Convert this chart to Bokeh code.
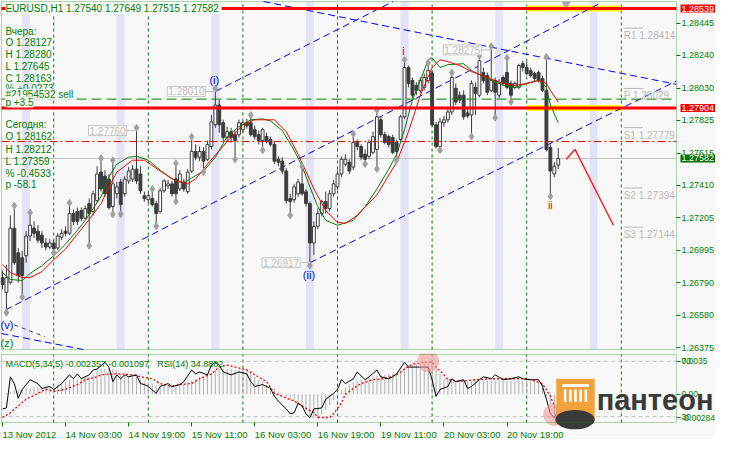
import numpy as np
import pandas as pd
from bokeh.plotting import figure
from bokeh.models import (Range1d, LinearAxis, FixedTicker, PrintfTickFormatter,
                          BoxAnnotation, Label)
from bokeh.layouts import column
from bokeh.embed import file_html
from bokeh.resources import INLINE
from bokeh.core.properties import value

# ---------------- data (EURUSD, H1) ----------------
symbol = "EURUSD,H1"
open_ = [1.26822,1.26728,1.26791,1.27137,1.26980,1.26948,1.26961,1.27087,1.27137,1.27118,
         1.27093,1.27043,1.27017,1.27043,1.27011,1.27080,1.27118,1.27105,1.27231,1.27244,
         1.27250,1.27200,1.27294,1.27244,1.27313,1.27495,1.27470,1.27451,1.27275,1.27357,
         1.27432,1.27357,1.27439,1.27451,1.27514,1.27483,1.27344,1.27319,1.27326,1.27294,
         1.27244,1.27376,1.27407,1.27420,1.27451,1.27388,1.27432,1.27370,1.27502,1.27627,
         1.27590,1.27627,1.27577,1.27659,1.27797,1.27923,1.27810,1.27716,1.27753,1.27734,
         1.27734,1.27766,1.27810,1.27810,1.27766,1.27734,1.27697,1.27722,1.27703,1.27672,
         1.27577,1.27565,1.27502,1.27326,1.27319,1.27357,1.27420,1.27370,1.27294,1.27043,
         1.27149,1.27231,1.27307,1.27263,1.27357,1.27401,1.27483,1.27546,1.27558,1.27527,
         1.27684,1.27659,1.27609,1.27596,1.27621,1.27640,1.27829,1.27734,1.27722,1.27716,
         1.27684,1.27703,1.27848,1.28162,1.28080,1.28049,1.28017,1.28036,1.28080,1.28127,
         1.27797,1.27659,1.27810,1.27829,1.27879,1.28030,1.27986,1.27986,1.27873,1.27860,
         1.28036,1.27986,1.28131,1.28112,1.28017,1.28080,1.27986,1.28099,1.28131,1.28061,
         1.28036,1.28036,1.28187,1.28162,1.28143,1.28124,1.28131,1.28093,1.28017,1.27653,
         1.27483,1.27540]
high_ = [1.26866,1.26904,1.27219,1.27263,1.27011,1.26992,1.27118,1.27219,1.27181,1.27156,
         1.27118,1.27074,1.27068,1.27061,1.27105,1.27131,1.27149,1.27281,1.27256,1.27269,
         1.27269,1.27281,1.27326,1.27376,1.27533,1.27565,1.27508,1.27483,1.27552,1.27432,
         1.27451,1.27470,1.27527,1.27539,1.27760,1.27533,1.27370,1.27363,1.27370,1.27313,
         1.27395,1.27451,1.27445,1.27439,1.27533,1.27508,1.27451,1.27514,1.27703,1.27672,
         1.27659,1.27653,1.27697,1.27860,1.28010,1.27955,1.27829,1.27785,1.27778,1.27760,
         1.27829,1.27822,1.27835,1.27841,1.27791,1.27760,1.27778,1.27747,1.27722,1.27690,
         1.27596,1.27590,1.27520,1.27357,1.27420,1.27451,1.27514,1.27388,1.27307,1.27181,
         1.27263,1.27319,1.27370,1.27382,1.27445,1.27508,1.27596,1.27609,1.27577,1.27722,
         1.27703,1.27672,1.27640,1.27703,1.27753,1.27873,1.27848,1.27753,1.27734,1.27734,
         1.27703,1.27860,1.28194,1.28175,1.28099,1.28068,1.28099,1.28124,1.28175,1.28143,
         1.27816,1.27841,1.27854,1.27904,1.28112,1.28061,1.28011,1.28017,1.27898,1.28080,
         1.28068,1.28219,1.28162,1.28131,1.28280,1.28099,1.28087,1.28112,1.28206,1.28080,
         1.28074,1.28187,1.28206,1.28200,1.28162,1.28137,1.28143,1.28112,1.28212,1.27672,
         1.27558,1.27649]
low_ = [1.26747,1.26615,1.26778,1.26904,1.26791,1.26715,1.26917,1.27055,1.27074,1.27043,
        1.27011,1.26998,1.27005,1.26998,1.26998,1.27061,1.27087,1.27093,1.27156,1.27156,
        1.27181,1.27193,1.27043,1.27219,1.27300,1.27370,1.27338,1.27256,1.27244,1.27326,
        1.27244,1.27338,1.27420,1.27432,1.27420,1.27357,1.27307,1.27300,1.27275,1.27168,
        1.27231,1.27363,1.27388,1.27338,1.27326,1.27376,1.27370,1.27357,1.27489,1.27571,
        1.27565,1.27514,1.27565,1.27640,1.27778,1.27747,1.27684,1.27690,1.27684,1.27596,
        1.27716,1.27747,1.27772,1.27722,1.27703,1.27672,1.27653,1.27678,1.27659,1.27546,
        1.27533,1.27483,1.27294,1.27238,1.27300,1.27338,1.27344,1.27275,1.26917,1.26967,
        1.27131,1.27212,1.27231,1.27244,1.27338,1.27382,1.27464,1.27533,1.27483,1.27508,
        1.27634,1.27571,1.27565,1.27577,1.27609,1.27533,1.27716,1.27672,1.27653,1.27609,
        1.27590,1.27690,1.27835,1.28036,1.27967,1.27986,1.27999,1.28017,1.28061,1.27785,
        1.27645,1.27653,1.27785,1.27810,1.27860,1.27923,1.27936,1.27829,1.27841,1.27741,
        1.27860,1.27973,1.28061,1.27986,1.28005,1.27860,1.27967,1.28049,1.28024,1.27961,
        1.28024,1.28024,1.28137,1.28112,1.28099,1.28074,1.28068,1.28005,1.27627,1.27359,
        1.27464,1.27515]
close_ = [1.26778,1.26822,1.27137,1.26917,1.26835,1.26835,1.27087,1.27156,1.27105,1.27061,
          1.27043,1.27017,1.27043,1.27005,1.27087,1.27105,1.27105,1.27231,1.27181,1.27181,
          1.27200,1.27263,1.27231,1.27357,1.27483,1.27388,1.27357,1.27269,1.27420,1.27401,
          1.27288,1.27451,1.27502,1.27514,1.27439,1.27376,1.27326,1.27344,1.27288,1.27231,
          1.27376,1.27439,1.27420,1.27357,1.27357,1.27483,1.27388,1.27495,1.27627,1.27590,
          1.27627,1.27565,1.27672,1.27816,1.27923,1.27797,1.27716,1.27753,1.27716,1.27697,
          1.27810,1.27810,1.27791,1.27734,1.27722,1.27697,1.27766,1.27690,1.27672,1.27565,
          1.27558,1.27502,1.27313,1.27307,1.27401,1.27432,1.27357,1.27294,1.27043,1.27149,
          1.27231,1.27307,1.27263,1.27357,1.27420,1.27483,1.27577,1.27577,1.27502,1.27684,
          1.27659,1.27590,1.27577,1.27684,1.27722,1.27848,1.27734,1.27684,1.27672,1.27621,
          1.27627,1.27848,1.28162,1.28061,1.27986,1.28017,1.28080,1.28099,1.28143,1.27797,
          1.27659,1.27816,1.27829,1.27879,1.28099,1.27942,1.27955,1.27848,1.27854,1.28061,
          1.27999,1.28206,1.28080,1.28005,1.28080,1.28005,1.28061,1.28061,1.28036,1.27986,
          1.28061,1.28175,1.28163,1.28124,1.28112,1.28093,1.28080,1.28017,1.27640,1.27502,
          1.27533,1.27582]

# moving averages
ma_fast_idx = [0,2,5,7,10,13,16,19,21,23,25,27,29,32,34,37,40,43,46,48,51,54,57,60,63,66,68,71,74,76,
               78,80,82,85,89,92,95,98,100,102,104,106,108,109,111,113,117,119,123,127,130,134,136,138,139,141]
ma_fast = [1.26854,1.26810,1.26803,1.26848,1.26898,1.26961,1.27036,1.27124,1.27187,1.27263,
           1.27338,1.27464,1.27546,1.27590,1.27596,1.27571,1.27508,1.27451,1.27426,1.27458,
           1.27502,1.27590,1.27722,1.27785,1.27829,1.27835,1.27822,1.27760,1.27634,1.27533,
           1.27401,1.27275,1.27187,1.27156,1.27187,1.27275,1.27388,1.27514,1.27609,1.27766,
           1.27955,1.28080,1.28212,1.28225,1.28162,1.28181,1.28187,1.28143,1.28093,1.28049,
           1.28036,1.28068,1.28080,1.28036,1.27923,1.27810]
ma_slow_idx = [0,2,5,7,10,13,16,19,22,25,27,29,33,36,40,44,47,49,52,57,61,64,69,72,75,79,82,85,87,90,
               95,100,103,106,109,111,113,116,119,123,127,130,133,136,138,139,141]
ma_slow = [1.26904,1.26854,1.26822,1.26822,1.26860,1.26936,1.27005,1.27099,1.27193,1.27294,
           1.27401,1.27495,1.27571,1.27571,1.27502,1.27439,1.27420,1.27451,1.27546,1.27690,
           1.27797,1.27829,1.27829,1.27753,1.27609,1.27388,1.27250,1.27175,1.27168,1.27219,
           1.27351,1.27558,1.27753,1.27986,1.28162,1.28212,1.28200,1.28175,1.28137,1.28099,
           1.28061,1.28049,1.28061,1.28080,1.28061,1.28017,1.27942]

# fractals (bar indices)
up_frac = [3,7,17,25,28,34,38,44,48,54,63,76,89,95,102,108,114,121,124,128,138]
dn_frac = [1,5,13,22,28,30,39,44,51,59,66,73,78,92,95,100,111,119,125,129,139]

# price axis ticks and levels
price_ticks = [1.26375,1.26580,1.26790,1.26995,1.27205,1.27410,1.27615,1.27825,1.28030,1.28240,1.28445]
red_levels = [1.28539, 1.27904]
order_price = 1.27961
order_text = ["#21954532 sell", "p +3.5"]
stop_price = 1.27690
pivot_names = ["R1", "P", "S1", "S2", "S3"]
pivot_vals = [1.28414, 1.28029, 1.27779, 1.27394, 1.27144]

# extremes with grey price boxes
ext_idx = [34, 54, 78, 124]
ext_price = [1.27760, 1.28010, 1.26917, 1.28275]

# wave counts
wave_text = ["(i)", "(ii)", "i", "ii"]
wave_idx = [53.75, 77.75, 101.75, 139.0]
wave_price = [1.28080, 1.26841, 1.28269, 1.27288]
wave_color = ["#0000ff", "#0000ff", "#ff0000", "#ff0000"]

# trend lines (start idx, start price, end idx, end price)
tl_x0 = [54, 0.75, 78, 66.2, -0.25]
tl_y0 = [1.28010, 1.26615, 1.26917, 1.28584, 1.26465]
tl_x1 = [99.1, 152, 171.0, 171.0, 20.5]
tl_y1 = [1.28584, 1.28577, 1.28077, 1.28055, 1.26363]
aux_x = [3, 10.75]
aux_y = [1.26520, 1.26445]

# forecast path
fc_idx = [143, 145.25, 155]
fc_price = [1.27577, 1.27640, 1.27156]

# daily info
yday = {"O": 1.28127, "H": 1.28280, "L": 1.27645, "C": 1.28163, "pct": "+0.0273"}
today = {"O": 1.28162, "H": 1.28212, "L": 1.27359, "pct": "-0.4533", "p": "-58.1"}

# indicators
macd_hist = [0.00000,0.00010,0.00030,0.00041,0.00051,0.00051,0.00061,0.00061,0.00071,0.00071,
             0.00071,0.00071,0.00081,0.00091,0.00101,0.00112,0.00132,0.00152,0.00162,0.00162,
             0.00172,0.00183,0.00183,0.00203,0.00254,0.00264,0.00264,0.00264,0.00264,0.00254,
             0.00213,0.00203,0.00193,0.00193,0.00183,0.00152,0.00132,0.00122,0.00112,0.00091,
             0.00091,0.00091,0.00091,0.00091,0.00091,0.00101,0.00112,0.00122,0.00142,0.00162,
             0.00183,0.00183,0.00193,0.00223,0.00254,0.00264,0.00264,0.00264,0.00264,0.00254,
             0.00254,0.00254,0.00254,0.00233,0.00183,0.00152,0.00132,0.00101,0.00081,0.00061,
             0.00030,0.00000,-0.00030,-0.00061,-0.00081,-0.00101,-0.00132,-0.00172,-0.00233,-0.00254,
             -0.00254,-0.00213,-0.00162,-0.00112,-0.00061,-0.00010,0.00041,0.00071,0.00101,0.00122,
             0.00142,0.00152,0.00162,0.00172,0.00183,0.00193,0.00203,0.00203,0.00213,0.00213,
             0.00223,0.00233,0.00274,0.00294,0.00304,0.00314,0.00325,0.00335,0.00345,0.00345,
             0.00284,0.00213,0.00162,0.00152,0.00142,0.00142,0.00142,0.00132,0.00132,0.00132,
             0.00142,0.00142,0.00142,0.00142,0.00142,0.00142,0.00142,0.00142,0.00142,0.00142,
             0.00142,0.00142,0.00142,0.00142,0.00132,0.00132,0.00132,0.00112,-0.00020,-0.00132,
             -0.00213,-0.00236]
sig_idx = [0,2,4,6,9,11,13,16,19,21,24,25,28,30,33,35,38,40,43,45,48,50,53,55,57,59,62,64,67,69,
           72,74,76,79,80,83,84,86,87,89,91,94,97,100,102,104,107,109,110,112,113,116,120,124,128,
           132,134,137,139,140,141]
sig_val = [-0.00243,-0.00193,-0.00122,-0.00051,0.00010,0.00051,0.00030,0.00051,0.00101,0.00152,
           0.00183,0.00203,0.00213,0.00213,0.00203,0.00183,0.00162,0.00112,0.00081,0.00101,
           0.00112,0.00162,0.00213,0.00284,0.00304,0.00284,0.00254,0.00203,0.00132,0.00010,
           -0.00041,-0.00071,-0.00122,-0.00193,-0.00243,-0.00243,-0.00203,-0.00091,0.00000,0.00061,
           0.00112,0.00152,0.00162,0.00203,0.00264,0.00314,0.00335,0.00335,0.00284,0.00203,
           0.00152,0.00132,0.00152,0.00162,0.00162,0.00162,0.00152,0.00112,-0.00020,-0.00122,
           -0.00193]
rsi_idx = [0,1,2,3,4,5,7,9,10,12,13,15,17,18,19,20,22,23,24,26,27,28,29,30,31,32,34,35,36,37,
           39,40,42,43,45,46,48,49,50,52,53,54,55,56,58,60,62,63,64,66,68,69,70,72,73,74,75,76,77,78,
           79,81,82,84,85,86,87,89,90,92,93,95,96,98,99,100,102,103,105,107,108,109,110,111,113,114,
           115,117,118,119,121,122,124,125,127,129,131,132,134,136,137,138,139,140,141]
rsi_val = [35.6,36.3,58.8,53.9,43.3,49.6,56.7,53.9,50.4,51.8,49.6,53.9,60.2,57.4,60.9,57.4,60.2,
           63.7,64.4,69.3,65.8,55.3,60.2,57.4,60.2,58.8,60.2,53.9,53.2,51.8,46.8,51.8,53.9,51.8,
           53.2,55.3,63.7,60.9,62.3,60.2,67.2,69.3,67.2,62.3,60.2,62.3,60.9,55.3,51.8,53.2,50.4,
           44.7,41.2,35.6,32.1,32.8,39.8,37.7,32.1,29.3,35.6,36.3,42.6,46.8,49.6,56.7,53.9,57.4,
           62.3,56.7,58.8,63.7,58.8,57.4,58.8,60.9,69.3,65.8,65.8,65.8,65.8,56.7,44.7,49.6,51.8,
           57.4,55.3,56.7,50.4,51.8,56.7,58.8,57.4,60.2,56.7,57.4,58.8,57.4,56.7,56.7,51.8,42.6,
           32.1,29.3,34.9]
macd_text = "MACD(5,34,5) -0.002357 -0.001097"
rsi_text = "RSI(14) 34.8882"
rsi_levels = [70, 30]
macd_axis_ticks = [0.00345, 0, -0.00243]
macd_axis_text = {0.00345: "0.0035", 0: "0.00", -0.00243: "-0.00284"}
highlight_idx = [108, 140]

# ---------------- styling / geometry ----------------
FONT = "Liberation Sans"
GREEN = "#008000"
BG = "#f8f8f8"
CANDLE = "#3c3c3c"
FW = 715                      # frame width (px); axes sit at fixed locations inside it
XB0, XB1 = -0.25, 171.0       # chart border in bar units
PXB = 675.0 / (XB1 - XB0)     # px per bar
XF0 = XB0 - 1.0 / PXB
XF1 = XF0 + FW / PXB
Y0b, Y1b = 1.26363, 1.28584   # price border
SP = (Y1b - Y0b) / 348.0
M0b, M1b = -0.00295, 0.00415  # MACD border
SM = (M1b - M0b) / 68.0
R0b, R1b = 25.8, 74.9         # RSI border
SR = (R1b - R0b) / 68.0


def rx(px):
    return XB0 + (px - 5) / 4.0


def ry(py):
    return Y1b - (py - 5) * (Y1b - Y0b) / 353.0


def sy(py):
    return M1b - (py - 362) * (M1b - M0b) / 70.0


o = np.array(open_); h = np.array(high_); l = np.array(low_); c = np.array(close_)
n = len(c)
idx = np.arange(n)
slots = pd.date_range("2012-11-13 11:00", "2012-11-24 00:00", freq="60min")
slots = slots[slots.dayofweek < 5][:172]
sep_idx = [i for i, t in enumerate(slots) if t.hour == 0]
band_idx = [i for i, t in enumerate(slots) if t.hour == 16]
tick_idx = list(range(0, n, 16))
tick_text = {i: (slots[i].strftime("%d %b %Y") if i == 0 else slots[i].strftime("%d %b %H:%M"))
             for i in tick_idx}
day_start = max(s for s in sep_idx if s < n)
day_end = min(s for s in sep_idx if s > day_start)

xr = Range1d(XF0, XF1)


def style_right_axis(ax, size):
    ax.axis_line_color = None
    ax.major_tick_line_color = GREEN
    ax.major_tick_in = 0
    ax.major_tick_out = 4
    ax.minor_tick_line_color = None
    ax.major_label_text_color = GREEN
    ax.major_label_text_font = FONT
    ax.major_label_text_font_size = size
    ax.major_label_standoff = 1


# ---------------- main panel ----------------
p1 = figure(frame_width=FW, frame_height=353, x_range=xr,
            y_range=Range1d(Y0b - 4 * SP, Y1b + SP),
            x_axis_location=None, y_axis_location=None, output_backend="svg",
            toolbar_location=None, min_border_left=0, min_border_right=0,
            min_border_top=0, min_border_bottom=0, background_fill_color=BG,
            border_fill_color=BG, outline_line_color=None)
p1.grid.grid_line_color = None

ya = LinearAxis(ticker=FixedTicker(ticks=price_ticks), formatter=PrintfTickFormatter(format="%.5f"),
                fixed_location=XB1)
style_right_axis(ya, "9px")
p1.add_layout(ya, "right")

for b in band_idx:
    p1.add_layout(BoxAnnotation(left=b, right=b + 2, bottom=Y0b, top=Y1b, fill_color="#e3e3f7",
                                fill_alpha=1.0, line_color=None, level="underlay"))
p1.segment(x0=sep_idx, y0=Y0b, x1=sep_idx, y1=Y1b, line_color=GREEN, line_dash="3 3", line_width=1)
p1.segment(x0=XB0, y0=c[-1], x1=XB1, y1=c[-1], line_color="#c4c4c4", line_width=1)

# today's highlight of levels
p1.segment(x0=[day_start] * 2, y0=red_levels, x1=[day_end] * 2, y1=red_levels,
           line_color="#ffff00", line_width=6)

# trend lines
p1.segment(x0=tl_x0, y0=tl_y0, x1=tl_x1, y1=tl_y1, line_color="#0000ff", line_dash="7 4",
           line_width=1)
p1.line(aux_x, aux_y, line_color="#404040", line_dash="4 4", line_width=1)

# candles
inc = c >= o
p1.segment(idx, l, idx, h, line_color=CANDLE, line_width=1)
p1.vbar(x=idx[inc], width=0.72, top=c[inc], bottom=o[inc], fill_color="white", line_color=CANDLE)
p1.vbar(x=idx[~inc], width=0.72, top=o[~inc], bottom=c[~inc], fill_color=CANDLE, line_color=CANDLE)

# moving averages
p1.line(ma_fast_idx, ma_fast, line_color="#008000", line_width=1)
p1.line(ma_slow_idx, ma_slow, line_color="#ff0000", line_width=1)

# fractals
p1.scatter(up_frac, h[up_frac] + 0.00018, marker="diamond", size=7, fill_color="#a0a0a0",
           line_color="#a0a0a0")
p1.scatter(dn_frac, l[dn_frac] - 0.00018, marker="diamond", size=7, fill_color="#a0a0a0",
           line_color="#a0a0a0")

# forecast
p1.line(fc_idx, fc_price, line_color="#ff2020", line_width=1.5)

# chart shift marker
p1.scatter([rx(578)], [ry(8)], marker="inverted_triangle", size=9, fill_color="#a8a8a8",
           line_color=None)

# horizontal levels
p1.segment(x0=XB0, y0=red_levels, x1=XB1, y1=red_levels, line_color="#ff0000", line_width=3)
p1.segment(x0=XB0, y0=order_price, x1=XB1, y1=order_price, line_color=GREEN,
           line_dash="10 5", line_width=1)
p1.segment(x0=XB0, y0=stop_price, x1=XB1, y1=stop_price, line_color="#ff0000",
           line_dash="8 3 2 3", line_width=1)

# extreme price boxes
for i_, pr in zip(ext_idx, ext_price):
    p1.segment(i_ - 2.5, pr, i_, pr, line_color="#c0c0c0")
    p1.add_layout(Label(x=i_ - 2.5, y=pr, text=f"{pr:.5f}", text_align="right",
                        text_baseline="middle", text_font=FONT, text_font_size="10px",
                        text_color="#c0c0c0", background_fill_color=BG,
                        border_line_color="#c8c8c8", padding=1))

# pivots
piv_x = [day_end + 0.6] * len(pivot_vals)
p1.segment(x0=piv_x, y0=pivot_vals, x1=[day_end + 5.5] * len(pivot_vals), y1=pivot_vals,
           line_color="#b8b8b8")
p1.text(x=piv_x, y=pivot_vals, text=[f"{nm} {v:.5f}" for nm, v in zip(pivot_names, pivot_vals)],
        text_font=value(FONT), text_font_size="10px", text_color="#b8b8b8",
        text_baseline="top", y_offset=2)

# wave labels
p1.text(x=wave_idx, y=wave_price, text=wave_text, text_color=wave_color, text_align="center",
        text_baseline="middle", text_font=value(FONT), text_font_size="11px")
p1.text(x=[rx(4), rx(4)], y=[ry(333), ry(351)], text=["(v)", "(z)"],
        text_color=["#0000ff", GREEN], text_baseline="middle", text_font=value(FONT),
        text_font_size="11px")

# info texts
lines = [("Вчера:", 35), (f"O {yday['O']:.5f}", 47), (f"H {yday['H']:.5f}", 59),
         (f"L {yday['L']:.5f}", 71), (f"C {yday['C']:.5f}", 83), (f"% {yday['pct']}", 93),
         ("Сегодня:", 130), (f"O {today['O']:.5f}", 142), (f"H {today['H']:.5f}", 155),
         (f"L {today['L']:.5f}", 167), (f"% {today['pct']}", 179), (f"p {today['p']}", 191)]
p1.text(x=[rx(9)] * len(lines), y=[ry(v) for _, v in lines], text=[t for t, _ in lines],
        text_font=value(FONT), text_font_size="10px", text_color=GREEN, text_baseline="middle")
p1.add_layout(Label(x=rx(9), y=ry(12), text=f"{symbol}  {o[-1]:.5f} {h[-1]:.5f} {l[-1]:.5f} {c[-1]:.5f}",
                    text_font=FONT, text_font_size="10px", text_color=GREEN,
                    text_baseline="middle", background_fill_color=BG, padding=0))
for t, v in zip(order_text, [99, 107]):
    p1.add_layout(Label(x=rx(9), y=ry(v), text=t, text_font=FONT, text_font_size="10px",
                        text_color=GREEN, text_baseline="middle", background_fill_color=BG,
                        padding=0))

# chart border
p1.add_layout(BoxAnnotation(left=XB0, right=XB1, bottom=Y0b, top=Y1b, fill_alpha=0,
                            line_color=GREEN, line_width=1, level="overlay"))

# right-side price boxes
for lv, col in [(red_levels[0], "#ff0000"), (red_levels[1], "#ff0000"), (c[-1], "#007000")]:
    p1.add_layout(Label(x=XB1, y=lv, x_offset=4, text=f"{lv:.5f}", text_font=FONT,
                        text_font_size="9px", text_color="white", text_baseline="middle",
                        text_align="left", background_fill_color=col, padding=1))

# ---------------- indicator panel ----------------
p2 = figure(frame_width=FW, frame_height=86, x_range=xr,
            y_range=Range1d(M0b - 17 * SM, M1b + SM),
            x_axis_location=None, y_axis_location=None, output_backend="svg",
            toolbar_location=None, min_border_left=0, min_border_right=0,
            min_border_top=0, min_border_bottom=0, background_fill_color=BG,
            border_fill_color=BG, outline_line_color=None)
p2.grid.grid_line_color = None
p2.extra_y_ranges = {"rsi": Range1d(R0b - 17 * SR, R1b + SR)}

xa = LinearAxis(ticker=FixedTicker(ticks=tick_idx), major_label_overrides=tick_text,
                fixed_location=M0b)
xa.axis_line_color = None
xa.major_tick_line_color = GREEN
xa.major_tick_out = 4
xa.major_tick_in = 0
xa.minor_tick_line_color = None
xa.major_label_text_color = GREEN
xa.major_label_text_font = FONT
xa.major_label_text_font_size = "9.5px"
xa.major_label_orientation = -0.0001
xa.major_label_standoff = 8
p2.add_layout(xa, "below")

ya2 = LinearAxis(ticker=FixedTicker(ticks=macd_axis_ticks), major_label_overrides=macd_axis_text,
                 fixed_location=XB1)
style_right_axis(ya2, "8.5px")
p2.add_layout(ya2, "right")

p2.segment(x0=sep_idx, y0=M0b, x1=sep_idx, y1=M1b, line_color=GREEN, line_dash="3 3", line_width=1)
p2.segment(x0=XB0, y0=rsi_levels, x1=XB1, y1=rsi_levels, y_range_name="rsi",
           line_color="#c0c0c0", line_dash="4 3", line_width=1)

p2.segment(idx, np.zeros(n), idx, macd_hist, line_color="#b0b0b0", line_width=1)
p2.line(sig_idx, sig_val, line_color="#ff0000", line_dash="2 2", line_width=1.3)
p2.line(rsi_idx, rsi_val, line_color="black", line_width=1, y_range_name="rsi")
hist_arr = np.array(macd_hist)
p2.scatter(highlight_idx, hist_arr[highlight_idx], size=22, fill_color="#f29a9a",
           fill_alpha=0.6, line_color=None)

p2.text(x=[rx(9), rx(163)], y=[sy(372)] * 2, text=[macd_text, rsi_text], text_font=value(FONT),
        text_font_size="9px", text_color=GREEN, text_baseline="middle")

# logo
p2.quad(left=rx(568), right=rx(607), bottom=sy(430), top=sy(387), fill_color="#f2a23c",
        line_color=None)
col_x = np.linspace(rx(577), rx(598), 5)
p2.segment(col_x, sy(411), col_x, sy(398), line_color="white", line_width=2.5)
p2.segment(rx(574), sy(394), rx(601), sy(394), line_color="white", line_width=3)
p2.ellipse(x=rx(587), y=sy(429), width=rx(606) - rx(566), height=sy(419) - sy(439),
           fill_color="#3a3a3a", line_color=None)

# border
p2.add_layout(BoxAnnotation(left=XB0, right=XB1, bottom=M0b, top=M1b, fill_alpha=0,
                            line_color=GREEN, line_width=1, level="overlay"))
for lv in rsi_levels:
    p2.add_layout(Label(x=XB1, y=lv, y_range_name="rsi", x_offset=5, text=str(lv), text_font=FONT,
                        text_font_size="8.5px", text_color=GREEN, text_baseline="middle"))
p2.add_layout(Label(x=rx(609), y=sy(409), text="пантеон", text_font=FONT,
                    text_font_size="29px", text_font_style="bold", text_color="#3a3a3a",
                    text_baseline="middle", text_align="left"))

layout = column(p1, p2, spacing=0)
open("out.html", "w").write(file_html(layout, INLINE))
